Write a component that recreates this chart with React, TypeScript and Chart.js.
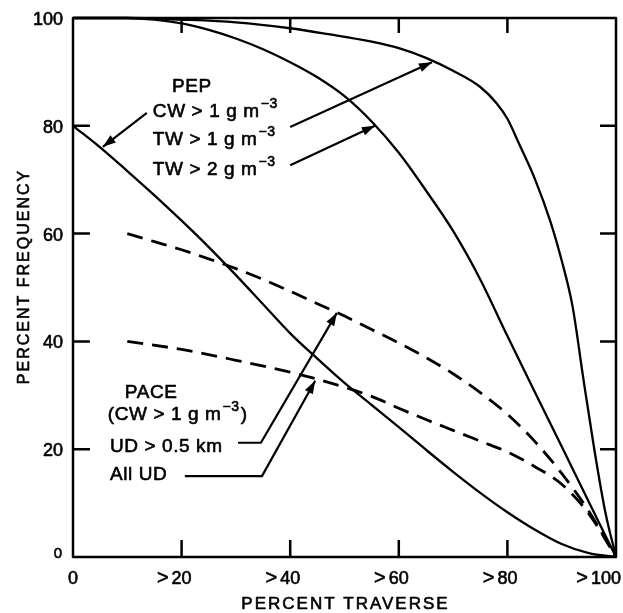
import { useEffect, useRef } from 'react';
import { Chart, registerables } from 'chart.js';

Chart.register(...registerables);

// ---- data (percent traverse vs percent frequency) ----
const pepCwX = [0, 5, 10, 15, 20, 25, 30, 35, 40, 45, 50, 55, 60, 65, 70, 75, 80, 85, 90, 95, 100];
const pepCwY = [80, 76, 71.6, 67.1, 62.4, 57.5, 52.3, 46.9, 41.5, 36.8, 32.3, 28.2, 24.1, 19.9, 15.8, 11.9, 8.3, 5.1, 2.4, 0.7, 0];

const pepTw1X = [0, 10, 15, 20, 25, 30, 35, 40, 45, 50, 55, 60, 65, 70, 75, 80, 85, 90, 95, 100];
const pepTw1Y = [100, 100, 99.7, 99, 97.8, 96.2, 94.2, 91.8, 89, 85.5, 80.8, 75, 68, 60.5, 51.5, 41, 30.7, 20.5, 10.2, 0];

const pepTw2X = [0, 10, 20, 30, 40, 47, 55, 60, 65, 70, 75, 78, 80, 82, 85, 88, 90, 92, 94, 96, 98, 100];
const pepTw2Y = [100, 100, 99.7, 99.2, 98.1, 97, 95.6, 94.4, 92.6, 90.2, 87.2, 84.2, 81.3, 77, 70.3, 62, 55, 46.5, 33, 20, 8.5, 0];

const paceUdX = [10, 15, 20, 25, 30, 35, 40, 45, 50, 55, 60, 65, 70, 75, 80, 85, 90, 95, 100];
const paceUdY = [60, 58.5, 57, 55.3, 53.5, 51.5, 49.3, 47, 44.7, 42.2, 39.7, 37, 34, 30.5, 26.5, 21.5, 15.5, 8.5, 0];

const paceAllX = [10, 20, 30, 40, 45, 50, 55, 60, 65, 70, 75, 80, 85, 90, 95, 100];
const paceAllY = [40, 38.5, 36.5, 34.3, 33, 31.5, 29.8, 27.6, 25.5, 23.5, 21.5, 19.5, 16.8, 13.5, 8, 0];

const tickValues = [0, 20, 40, 60, 80, 100];
const xTickLabels = ['0', '20', '40', '60', '80', '100'];
const yTickLabels = ['0', '20', '40', '60', '80', '100'];
const xTitle = 'PERCENT TRAVERSE';
const yTitle = 'PERCENT FREQUENCY';
const pepTitle = 'PEP';
const pepLines = ['CW > 1 g m', 'TW > 1 g m', 'TW > 2 g m'];
const paceTitle = 'PACE';
const paceLines = ['(CW > 1 g m', 'UD > 0.5 km', 'All UD'];
const unitExp = '\u22123';

const FONT = '"Liberation Sans", Arial, sans-serif';

const pts = (xs: number[], ys: number[]) => xs.map((x, i) => ({ x, y: ys[i] }));

const overlay = {
  id: 'overlay',
  afterDatasetsDraw(chart: any) {
    const { ctx, chartArea: a, scales } = chart;
    const sx = scales.x;
    const sy = scales.y;
    const px = (v: number) => sx.getPixelForValue(v);
    const py = (v: number) => sy.getPixelForValue(v);
    ctx.save();
    ctx.strokeStyle = '#000';
    ctx.fillStyle = '#000';
    ctx.lineCap = 'butt';
    ctx.lineJoin = 'round';

    const txt = (s: string, x: number, y: number) => {
      ctx.fillText(s, x, y);
      const lw = ctx.lineWidth;
      ctx.lineWidth = 0.6;
      ctx.strokeText(s, x, y);
      ctx.lineWidth = lw;
    };

    // frame
    ctx.lineWidth = 2.5;
    ctx.strokeRect(a.left, a.top, a.right - a.left, a.bottom - a.top);

    // inward ticks on all sides
    const T = 17;
    ctx.beginPath();
    tickValues.slice(1, -1).forEach((v) => {
      const X = px(v);
      const Y = py(v);
      ctx.moveTo(X, a.bottom); ctx.lineTo(X, a.bottom - T);
      ctx.moveTo(X, a.top); ctx.lineTo(X, a.top + 15);
      ctx.moveTo(a.left, Y); ctx.lineTo(a.left + T, Y);
      ctx.moveTo(a.right, Y); ctx.lineTo(a.right - 16, Y);
    });
    ctx.stroke();

    // y tick labels
    ctx.textAlign = 'right';
    ctx.textBaseline = 'alphabetic';
    tickValues.forEach((v, i) => {
      if (i === 0) {
        ctx.font = `15px ${FONT}`;
        txt(yTickLabels[i], a.left - 11, py(v) + 1);
      } else {
        ctx.font = `18px ${FONT}`;
        txt(yTickLabels[i], a.left - 10, py(v) + 7);
      }
    });

    // x tick labels: number centred on tick, '>' before it
    ctx.font = `18px ${FONT}`;
    const by = a.bottom + 27;
    tickValues.forEach((v, i) => {
      const s = xTickLabels[i];
      const w = ctx.measureText(s).width;
      let left = px(v) - w / 2;
      if (left + w > chart.width - 2) left = chart.width - 2 - w;
      ctx.textAlign = 'left';
      txt(s, left, by);
      if (i > 0) {
        ctx.textAlign = 'right';
        ctx.font = `20px ${FONT}`;
        txt('>', left - 3, by);
        ctx.font = `18px ${FONT}`;
      }
    });

    // axis titles
    ctx.font = `17px ${FONT}`;
    (ctx as any).letterSpacing = '2px';
    ctx.textAlign = 'center';
    txt(xTitle, (a.left + a.right) / 2 + 1, chart.height - 4);
    ctx.save();
    ctx.translate(29, (a.top + a.bottom) / 2 - 11);
    ctx.rotate(-Math.PI / 2);
    ctx.font = `16px ${FONT}`;
    txt(yTitle, 0, 0);
    ctx.restore();
    (ctx as any).letterSpacing = '0px';

    const rich = (main: string, sup: string | null, x: number, y: number, close?: string) => {
      ctx.textAlign = 'left';
      ctx.font = `19px ${FONT}`;
      (ctx as any).letterSpacing = '0.6px';
      txt(main, x, y);
      let cx = x + ctx.measureText(main).width;
      if (sup) {
        ctx.font = `14px ${FONT}`;
        txt(sup, cx + 1, y - 9);
        cx += 1 + ctx.measureText(sup).width;
      }
      if (close) {
        ctx.font = `19px ${FONT}`;
        txt(close, cx + 1, y);
      }
      (ctx as any).letterSpacing = '0px';
    };

    // PEP block
    ctx.font = `19px ${FONT}`;
    ctx.textAlign = 'center';
    (ctx as any).letterSpacing = '0.6px';
    txt(pepTitle, px(21.9), py(86.3));
    const pepBase = [81.6, 76.4, 70.9];
    pepLines.forEach((s, i) => rich(s, unitExp, px(14.7), py(pepBase[i])));

    // PACE block
    ctx.font = `19px ${FONT}`;
    ctx.textAlign = 'center';
    (ctx as any).letterSpacing = '0.6px';
    txt(paceTitle, px(14.4), py(29.5));
    rich(paceLines[0], unitExp, px(6.4), py(25.4), ')');
    rich(paceLines[1], null, px(6.8), py(19.5));
    rich(paceLines[2], null, px(6.8), py(14.3));

    // arrows
    const arrow = (path: number[][]) => {
      const p = path.map(([x, y]) => [px(x), py(y)]);
      ctx.lineWidth = 2.2;
      ctx.beginPath();
      ctx.moveTo(p[0][0], p[0][1]);
      for (let i = 1; i < p.length; i++) ctx.lineTo(p[i][0], p[i][1]);
      ctx.stroke();
      const [tx, ty] = p[p.length - 1];
      const [fx, fy] = p[p.length - 2];
      const ang = Math.atan2(ty - fy, tx - fx);
      const L = 13;
      const W = 4.5;
      ctx.beginPath();
      ctx.moveTo(tx, ty);
      ctx.lineTo(tx - L * Math.cos(ang) + W * Math.sin(ang), ty - L * Math.sin(ang) - W * Math.cos(ang));
      ctx.lineTo(tx - L * Math.cos(ang) - W * Math.sin(ang), ty - L * Math.sin(ang) + W * Math.cos(ang));
      ctx.closePath();
      ctx.fill();
    };
    arrow([[13.6, 82.4], [5.5, 76.1]]);
    arrow([[40.0, 79.8], [66.1, 91.8]]);
    arrow([[40.0, 72.7], [55.6, 80.0]]);
    arrow([[30.4, 21.2], [34.6, 21.2], [48.6, 45.3]]);
    arrow([[20.6, 15.0], [34.8, 15.0], [44.6, 32.7]]);

    ctx.restore();
  },
};

export default function App() {
  const ref = useRef<HTMLCanvasElement>(null);
  useEffect(() => {
    if (!ref.current) return;
    const solid = { borderColor: '#000', borderWidth: 2.3, pointRadius: 0, fill: false, cubicInterpolationMode: 'monotone' as const, clip: false as any };
    const dashed = { ...solid, borderWidth: 2.8, borderDash: [16, 9] };
    const chart = new Chart(ref.current, {
      type: 'line',
      data: {
        datasets: [
          { label: 'PEP CW > 1', data: pts(pepCwX, pepCwY), ...solid },
          { label: 'PEP TW > 1', data: pts(pepTw1X, pepTw1Y), ...solid },
          { label: 'PEP TW > 2', data: pts(pepTw2X, pepTw2Y), ...solid },
          { label: 'PACE UD > 0.5 km', data: pts(paceUdX, paceUdY), ...dashed },
          { label: 'PACE All UD', data: pts(paceAllX, paceAllY), ...dashed },
        ],
      },
      options: {
        animation: false,
        responsive: false,
        events: [],
        layout: { padding: { left: 73, right: 7, top: 18, bottom: 56 } },
        scales: {
          x: { type: 'linear', min: 0, max: 100, display: false },
          y: { type: 'linear', min: 0, max: 100, display: false },
        },
        plugins: { legend: { display: false }, tooltip: { enabled: false } },
      },
      plugins: [overlay],
    });
    return () => chart.destroy();
  }, []);
  return (
    <div style={{ position: 'absolute', left: 0, top: 0, width: 623, height: 613, background: '#fff' }}>
      <canvas ref={ref} width={623} height={613} style={{ display: 'block' }} />
    </div>
  );
}
